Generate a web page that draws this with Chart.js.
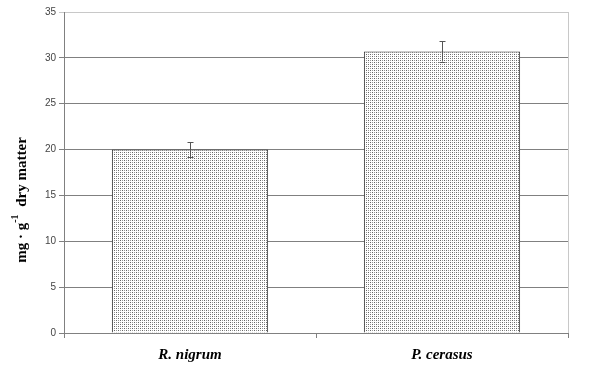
<!DOCTYPE html>
<html><head><meta charset="utf-8">
<script src="https://cdn.jsdelivr.net/npm/chart.js@4"></script>
<style>html,body{margin:0;padding:0;background:#fff;}#wrap{width:600px;height:372px;}</style>
</head><body><div id="wrap"><canvas id="c" width="600" height="372"></canvas></div>
<script>
const categories = ["R. nigrum", "P. cerasus"];
const values = [20.0, 30.7];
const errors = [0.8, 1.1];
const yTicks = [0, 5, 10, 15, 20, 25, 30, 35];
const yTitleParts = ["mg \u00b7 g", "-1", " dry matter"];

function makePattern(){
  const p = document.createElement('canvas');
  p.width = 4; p.height = 4;
  const g = p.getContext('2d');
  g.fillStyle = '#fff'; g.fillRect(0,0,4,4);
  g.fillStyle = '#666';
  g.fillRect(0,0,1,1); g.fillRect(2,2,1,1);
  g.fillStyle = '#999';
  g.fillRect(0,2,1,1); g.fillRect(2,0,1,1);
  return document.getElementById('c').getContext('2d').createPattern(p,'repeat');
}
const pat = makePattern();

const errPlugin = {
  id: 'err',
  afterDatasetsDraw(chart){
    const ctx = chart.ctx, xs = chart.scales.x, ys = chart.scales.y;
    ctx.save();
    ctx.strokeStyle = '#555'; ctx.lineWidth = 1;
    values.forEach((v,i)=>{
      const x = Math.round(xs.getPixelForValue(i)) + 0.5;
      const t = ys.getPixelForValue(v + errors[i]);
      const b = ys.getPixelForValue(v - errors[i]);
      ctx.beginPath();
      ctx.moveTo(x, t); ctx.lineTo(x, b);
      ctx.moveTo(x-3, Math.round(t)+0.5); ctx.lineTo(x+3, Math.round(t)+0.5);
      ctx.moveTo(x-3, Math.round(b)+0.5); ctx.lineTo(x+3, Math.round(b)+0.5);
      ctx.stroke();
    });
    ctx.restore();
  }
};
const framePlugin = {
  id: 'frame',
  beforeDatasetsDraw(chart){
    const ctx = chart.ctx, a = chart.chartArea;
    ctx.save();
    ctx.strokeStyle = '#c8c8c8'; ctx.lineWidth = 1;
    ctx.beginPath();
    ctx.moveTo(Math.round(a.right)+0.5, a.top); ctx.lineTo(Math.round(a.right)+0.5, a.bottom);
    ctx.stroke();
    ctx.restore();
  },
  afterDraw(chart){
    const ctx = chart.ctx;
    ctx.save();
    ctx.translate(26, 200);
    ctx.rotate(-Math.PI/2);
    ctx.fillStyle = '#000';
    ctx.textBaseline = 'alphabetic';
    const big = 'bold 15px "Liberation Serif"', small = 'bold 10px "Liberation Serif"';
    ctx.font = big; const w1 = ctx.measureText(yTitleParts[0]).width;
    ctx.font = small; const w2 = ctx.measureText(yTitleParts[1]).width;
    ctx.font = big; const w3 = ctx.measureText(yTitleParts[2]).width;
    let x = -(w1 + w2 + 4 + w3)/2;
    ctx.font = big; ctx.fillText(yTitleParts[0], x, 0); x += w1;
    ctx.font = small; ctx.fillText(yTitleParts[1], x, -8); x += w2 + 4;
    ctx.font = big; ctx.fillText(yTitleParts[2], x, 0);
    ctx.restore();
  }
};

new Chart(document.getElementById('c'), {
  type: 'bar',
  data: {
    labels: categories,
    datasets: [{
      data: values,
      backgroundColor: pat,
      borderColor: '#333',
      borderWidth: 1,
      borderSkipped: 'bottom',
      categoryPercentage: 1,
      barPercentage: 0.62
    }]
  },
  options: {
    responsive: false,
    animation: false,
    devicePixelRatio: 1,
    layout: { padding: { top: 12, right: 32, left: 0, bottom: 0 } },
    plugins: { legend: { display: false }, tooltip: { enabled: false } },
    scales: {
      x: {
        offset: true,
        grid: { offset: true, drawOnChartArea: false, drawTicks: true, tickLength: 5, color: '#808080' },
        border: { color: '#808080' },
        ticks: { color: '#000', padding: 8, font: { family: '"Liberation Serif"', size: 15, style: 'italic', weight: 'bold' } },
        afterFit(s){ s.height = 39; }
      },
      y: {
        min: 0, max: 35,
        afterBuildTicks(s){ s.ticks = yTicks.map(v=>({value:v})); },
        grid: { color: (c)=> c.tick && c.tick.value === 35 ? '#c8c8c8' : '#808080', tickLength: 5 },
        border: { color: '#808080' },
        ticks: { color: '#444', padding: 3, font: { family: '"Liberation Sans"', size: 10 } },
        afterFit(s){ s.width = 64; }
      }
    }
  },
  plugins: [framePlugin, errPlugin]
});
</script></body></html>
